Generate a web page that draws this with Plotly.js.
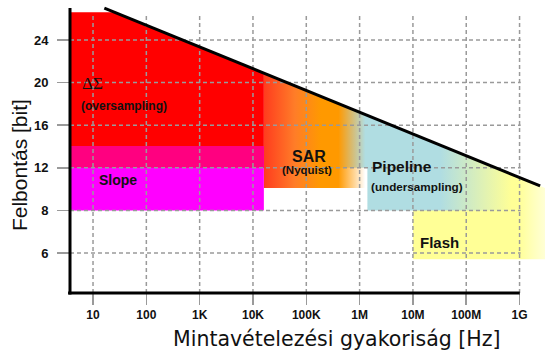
<!DOCTYPE html>
<html><head><meta charset="utf-8">
<script src="https://cdn.plot.ly/plotly-3.0.1.min.js"></script>
<style>body{margin:0;background:#fff}#chart{width:545px;height:352px}</style>
</head><body><div id="chart"></div><script>
// ---- data ----
const xTickVals = [10, 100, 1e3, 1e4, 1e5, 1e6, 1e7, 1e8, 1e9];
const xTickText = ['10', '100', '1K', '10K', '100K', '1M', '10M', '100M', '1G'];
const yTickBits = [6, 8, 12, 16, 20, 24];
const yTickText = ['6', '8', '12', '16', '20', '24'];
const freqRange = [3.7, 3.0e9];
const bitsRange = [4.12, 27.76];
// maximum-resolution trend line
const trendFreq = [16.3, 2.43e9];
const trendBits = [27.0, 10.3];
// architecture regions (frequency span, resolution span)
const dsFreq = [3.7, 1.6e4];      const dsBits = [12, 26.6];
const slopeFreq = [3.7, 1.6e4];   const slopeBits = [8, 14];
const sarFreq = [1.6e4, 1.4e6];   const sarBits = [10.1, 40];
const pipeFreq = [1.4e6, 1.05e9]; const pipeBits = [8, 40];
const pipeUpperFreq = 4.0e5;      const pipeUpperBits = 12;
const flashFreq = [1.0e7, 3.0e9]; const flashBits = [5.7, 40];
const gridTopBits = 26.55;
const gridRightFreq = 1.05e9;
// labels
const labels = [
  {text: 'ΔΣ', f: 5.7, b: 19.9, anchor: 'left', size: 17, serif: true, bold: false},
  {text: '(oversampling)', f: 5.5, b: 17.8, anchor: 'left', size: 12, bold: true},
  {text: 'Slope', f: 11.9, b: 10.9, anchor: 'left', size: 14, bold: true},
  {text: 'SAR', f: 1.1e5, b: 13.1, anchor: 'center', size: 16, bold: true},
  {text: '(Nyquist)', f: 1.03e5, b: 11.8, anchor: 'center', size: 11.5, bold: true},
  {text: 'Pipeline', f: 6.3e6, b: 12.1, anchor: 'center', size: 15.5, bold: true},
  {text: '(undersampling)', f: 1.2e7, b: 10.2, anchor: 'center', size: 11.7, bold: true},
  {text: 'Flash', f: 3.2e7, b: 6.47, anchor: 'center', size: 15, bold: true}
];

// ---- helpers ----
const L = Math.log10;
function lvl(b) { return b < 8 ? (b - 6) / 2 : 1 + (b - 8) / 4; }
function lineLvl(f) {
  const t = (L(f) - L(trendFreq[0])) / (L(trendFreq[1]) - L(trendFreq[0]));
  return lvl(trendBits[0]) + t * (lvl(trendBits[1]) - lvl(trendBits[0]));
}
function freqAtLvl(v) {
  const t = (v - lvl(trendBits[0])) / (lvl(trendBits[1]) - lvl(trendBits[0]));
  return Math.pow(10, L(trendFreq[0]) + t * (L(trendFreq[1]) - L(trendFreq[0])));
}
// polygon under the trend line, capped at bCap
function region(fLo, fHi, bLo, bCap, leftStep) {
  const cap = lvl(bCap);
  const xs = [], ys = [];
  xs.push(fLo, fHi); ys.push(lvl(bLo), lvl(bLo));
  xs.push(fHi); ys.push(Math.min(cap, lineLvl(fHi)));
  const fc = freqAtLvl(cap);
  const leftF = leftStep ? leftStep.f : fLo;
  if (fc > leftF && fc < fHi) { xs.push(fc, leftF); ys.push(cap, cap); }
  else { xs.push(leftF); ys.push(Math.min(cap, lineLvl(leftF))); }
  if (leftStep) { xs.push(leftStep.f, fLo); ys.push(lvl(leftStep.b), lvl(leftStep.b)); }
  xs.push(fLo); ys.push(lvl(bLo));
  return {x: xs, y: ys};
}
function poly(p, style) {
  return Object.assign({type: 'scatter', mode: 'lines', x: p.x, y: p.y, fill: 'toself',
    line: {width: 0}, hoverinfo: 'skip', showlegend: false}, style);
}

const traces = [];
// Flash
traces.push(poly(region(flashFreq[0], flashFreq[1], flashBits[0], flashBits[1]), {
  fillgradient: {type: 'horizontal', colorscale: [[0, 'rgb(255,255,150)'], [0.8, 'rgb(255,255,150)'], [1, 'rgba(255,255,170,0.5)']]}
}));
// Pipeline
traces.push(poly(region(pipeFreq[0], pipeFreq[1], pipeBits[0], pipeBits[1], {f: pipeUpperFreq, b: pipeUpperBits}), {
  fillgradient: {type: 'horizontal', colorscale: [[0, 'rgb(176,221,226)'], [0.56, 'rgb(176,221,226)'], [0.95, 'rgba(176,221,226,0)'], [1, 'rgba(176,221,226,0)']]}
}));
// SAR
traces.push(poly(region(sarFreq[0], sarFreq[1], sarBits[0], sarBits[1]), {
  fillgradient: {type: 'horizontal', colorscale: [[0, 'rgb(255,60,30)'], [0.3, 'rgb(255,125,40)'], [0.55, 'rgb(255,153,0)'], [0.72, 'rgb(255,153,0)'], [0.98, 'rgba(255,153,0,0)'], [1, 'rgba(255,153,0,0)']]}
}));
// Delta-Sigma
traces.push(poly(region(dsFreq[0], dsFreq[1], dsBits[0], dsBits[1]), {fillcolor: '#ff0000'}));
// Slope
traces.push(poly(region(slopeFreq[0], slopeFreq[1], slopeBits[0], slopeBits[1]), {fillcolor: '#ff00ff'}));
// overlap of Slope and Delta-Sigma
traces.push(poly(region(slopeFreq[0], slopeFreq[1], dsBits[0], slopeBits[1]), {fillcolor: '#ff0080'}));

// grid lines (above the regions)
const gx = [], gy = [];
xTickVals.forEach(v => { gx.push(v, v, null); gy.push(lvl(bitsRange[0]), lvl(gridTopBits), null); });
yTickBits.forEach(b => { gx.push(freqRange[0], gridRightFreq, null); gy.push(lvl(b), lvl(b), null); });
traces.push({type: 'scatter', mode: 'lines', x: gx, y: gy, connectgaps: false,
  line: {color: '#9a9a9a', width: 1.5, dash: '4px,3px'}, hoverinfo: 'skip', showlegend: false});

// trend line
traces.push({type: 'scatter', mode: 'lines', x: trendFreq, y: trendBits.map(lvl),
  line: {color: '#000', width: 3}, hoverinfo: 'skip', showlegend: false});

const annotations = labels.map(d => ({
  text: d.text, xref: 'x', yref: 'y', x: L(d.f), y: lvl(d.b), xanchor: d.anchor, yanchor: 'middle',
  showarrow: false,
  font: {family: d.serif ? 'Liberation Serif' : 'Liberation Sans', size: d.size, color: '#111', weight: d.bold ? 'bold' : 'normal'}
}));
annotations.push({text: 'Mintavételezési gyakoriság [Hz]', xref: 'paper', yref: 'paper', x: 0.56, y: -0.1553,
  xanchor: 'center', yanchor: 'middle', showarrow: false, borderpad: 0,
  font: {family: 'DejaVu Sans', size: 20.5, color: '#111'}});
annotations.push({text: 'Felbontás [bit]', xref: 'paper', yref: 'paper', x: -0.105, y: 0.437, textangle: -90,
  xanchor: 'center', yanchor: 'middle', showarrow: false, font: {family: 'Liberation Sans', size: 21, color: '#111'}});

const layout = {
  width: 545, height: 352,
  margin: {l: 70, r: 0, t: 0, b: 59, pad: 0},
  paper_bgcolor: '#fff', plot_bgcolor: '#fff',
  showlegend: false,
  xaxis: {type: 'log', range: [L(freqRange[0]), L(freqRange[1])], tickvals: xTickVals, ticktext: xTickText,
    ticks: 'outside', ticklen: 11, tickcolor: '#9a9a9a', tickwidth: 1.5, showgrid: false, showline: false, zeroline: false,
    tickfont: {family: 'Liberation Sans', size: 12, color: '#111', weight: 'bold'}},
  yaxis: {range: [lvl(bitsRange[0]), lvl(bitsRange[1])], tickvals: yTickBits.map(lvl), ticktext: yTickText,
    ticks: 'outside', ticklen: 12, tickcolor: '#9a9a9a', tickwidth: 1.5, showgrid: false, showline: false, zeroline: false,
    ticklabelstandoff: 6,
    tickfont: {family: 'Liberation Sans', size: 13, color: '#111', weight: 'bold'}},
  shapes: [
    {type: 'line', xref: 'paper', yref: 'paper', x0: -0.004, x1: 0.947, y0: 0, y1: 0, layer: 'above', line: {color: '#000', width: 3}},
    {type: 'line', xref: 'paper', yref: 'paper', x0: 0, x1: 0, y0: -0.005, y1: 0.973, layer: 'above', line: {color: '#000', width: 3}}
  ],
  annotations: annotations
};
Plotly.newPlot('chart', traces, layout, {staticPlot: true, displayModeBar: false});
</script></body></html>
